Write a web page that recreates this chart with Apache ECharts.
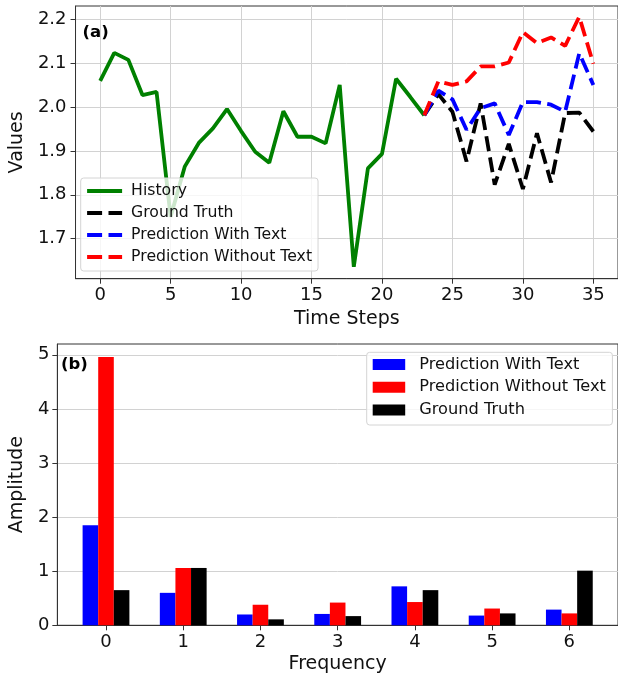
<!DOCTYPE html>
<html>
<head>
<meta charset="utf-8">
<script src="https://cdn.jsdelivr.net/npm/echarts@6/dist/echarts.min.js"></script>
<style>
html,body{margin:0;padding:0;background:#fff;}
#chart{width:618px;height:676px;}
</style>
</head>
<body>
<div id="chart"></div>
<script>
// ---------- Data: panel (a) ----------
const historySteps = [0,1,2,3,4,5,6,7,8,9,10,11,12,13,14,15,16,17,18,19,20,21,22,23];
const historyValues = [2.059,2.123,2.107,2.027,2.034,1.750,1.864,1.918,1.951,1.995,1.945,1.898,1.873,1.990,1.932,1.932,1.917,2.050,1.636,1.860,1.893,2.064,2.023,1.981];
const predSteps = [23,24,25,26,27,28,29,30,31,32,33,34,35];
const groundTruth = [1.981,2.029,1.989,1.876,2.008,1.823,1.916,1.813,1.940,1.828,1.986,1.987,1.944];
const predWithText = [1.981,2.037,2.017,1.948,1.997,2.008,1.936,2.011,2.011,2.005,1.989,2.122,2.050];
const predWithoutText = [1.981,2.058,2.050,2.058,2.092,2.092,2.101,2.170,2.145,2.158,2.139,2.205,2.098];
const xTicksA = [0,5,10,15,20,25,30,35];
const yTicksA = [1.7,1.8,1.9,2.0,2.1,2.2];

// ---------- Data: panel (b) ----------
const frequencies = [0,1,2,3,4,5,6];
const ampWithText = [1.85,0.60,0.20,0.21,0.72,0.18,0.29];
const ampWithoutText = [4.96,1.06,0.38,0.42,0.43,0.31,0.22];
const ampGroundTruth = [0.65,1.06,0.11,0.17,0.65,0.22,1.01];
const yTicksB = [0,1,2,3,4,5];

const FONT = 'DejaVu Sans';
const pair = (xs, ys) => xs.map((x, i) => [x, ys[i]]);

const axisLineStyle = {show: true, onZero: false, lineStyle: {color: '#333', width: 1}};
const gridLine = {show: true, lineStyle: {color: '#d2d2d2', width: 1}};
const tickStyle = (vals) => ({show: true, inside: false, length: 5, lineStyle: {color: '#333'}, customValues: vals});
const labelStyle = (vals, extra) => Object.assign({fontFamily: FONT, fontSize: 18, color: '#111', customValues: vals}, extra || {});
const DASH = [15, 6.4];

const chart = echarts.init(document.getElementById('chart'), null, {renderer: 'canvas'});
const option = {
  animation: false,
  backgroundColor: '#fff',
  grid: [
    {left: 72, top: 6, width: 549, height: 272.7, show: true, borderColor: '#333', borderWidth: 1, backgroundColor: 'transparent', containLabel: false},
    {left: 55.2, top: 344, width: 566, height: 281.3, show: true, borderColor: '#333', borderWidth: 1, backgroundColor: 'transparent', containLabel: false}
  ],
  xAxis: [
    {type: 'value', gridIndex: 0, min: -1.75, max: 36.75,
     axisLine: axisLineStyle, axisTick: tickStyle(xTicksA), splitLine: gridLine,
     axisLabel: labelStyle(xTicksA, {margin: 8}),
     name: 'Time Steps', nameLocation: 'middle', nameGap: 31,
     nameTextStyle: {fontFamily: FONT, fontSize: 19, color: '#111'}},
    {type: 'value', gridIndex: 1, min: -0.63, max: 6.63,
     axisLine: axisLineStyle, axisTick: tickStyle(frequencies), splitLine: {show: false},
     axisLabel: labelStyle(frequencies, {margin: 8}),
     name: 'Frequency', nameLocation: 'middle', nameGap: 29,
     nameTextStyle: {fontFamily: FONT, fontSize: 19, color: '#111'}}
  ],
  yAxis: [
    {type: 'value', gridIndex: 0, min: 1.609, max: 2.2296,
     axisLine: axisLineStyle, axisTick: tickStyle(yTicksA), splitLine: gridLine,
     axisLabel: labelStyle(yTicksA, {margin: 9, formatter: v => Number(v).toFixed(1)}),
     name: 'Values', nameLocation: 'middle', nameGap: 45,
     nameTextStyle: {fontFamily: FONT, fontSize: 19, color: '#111'}},
    {type: 'value', gridIndex: 1, min: 0, max: 5.2,
     axisLine: axisLineStyle, axisTick: tickStyle(yTicksB), splitLine: gridLine,
     axisLabel: labelStyle(yTicksB, {margin: 8}),
     name: 'Amplitude', nameLocation: 'middle', nameGap: 26,
     nameTextStyle: {fontFamily: FONT, fontSize: 19, color: '#111'}}
  ],
  legend: [
    {orient: 'vertical', left: 80.7, top: 178,
     data: ['History', 'Ground Truth', 'Prediction With Text', 'Prediction Without Text'],
     itemWidth: 35, itemHeight: 14, itemGap: 6,
     padding: [5, 6, 6, 4.5],
     backgroundColor: 'rgba(255,255,255,0.8)', borderColor: '#d4d4d4', borderWidth: 1, borderRadius: 3,
     lineStyle: {width: 3.8},
     itemStyle: {opacity: 0},
     textStyle: {fontFamily: FONT, fontSize: 15.7, color: '#111', lineHeight: 16, padding: [0, 0, 0, 4]}},
    {orient: 'vertical', left: 366.7, top: 352.3,
     data: ['bar:Prediction With Text', 'bar:Prediction Without Text', 'bar:Ground Truth'],
     formatter: n => n.replace('bar:', ''),
     icon: 'rect', itemWidth: 32.5, itemHeight: 11, itemGap: 6.75,
     padding: [4.2, 6.5, 7, 6],
     backgroundColor: 'rgba(255,255,255,0.8)', borderColor: '#d4d4d4', borderWidth: 1, borderRadius: 3,
     textStyle: {fontFamily: FONT, fontSize: 16.2, color: '#111', lineHeight: 16, padding: [0, 0, 0, 9]}}
  ],
  graphic: [
    {type: 'text', left: 82.5, top: 24, style: {text: '(a)', fontFamily: FONT, fontWeight: 'bold', fontSize: 16.5, fill: '#000'}},
    {type: 'text', left: 61, top: 356, style: {text: '(b)', fontFamily: FONT, fontWeight: 'bold', fontSize: 16.5, fill: '#000'}}
  ],
  series: [
    {name: 'History', type: 'line', xAxisIndex: 0, yAxisIndex: 0, data: pair(historySteps, historyValues),
     symbol: 'none', color: '#008000', lineStyle: {color: '#008000', width: 3.8}},
    {name: 'Ground Truth', type: 'line', xAxisIndex: 0, yAxisIndex: 0, data: pair(predSteps, groundTruth),
     symbol: 'none', color: '#000000', lineStyle: {color: '#000000', width: 3.8, type: DASH, cap: 'butt'}},
    {name: 'Prediction With Text', type: 'line', xAxisIndex: 0, yAxisIndex: 0, data: pair(predSteps, predWithText),
     symbol: 'none', color: '#0000ff', lineStyle: {color: '#0000ff', width: 3.8, type: DASH, cap: 'butt'}},
    {name: 'Prediction Without Text', type: 'line', xAxisIndex: 0, yAxisIndex: 0, data: pair(predSteps, predWithoutText),
     symbol: 'none', color: '#ff0000', lineStyle: {color: '#ff0000', width: 3.8, type: DASH, cap: 'butt'}},
    {name: 'bar:Prediction With Text', type: 'bar', xAxisIndex: 1, yAxisIndex: 1, data: pair(frequencies, ampWithText),
     barWidth: 15.6, barGap: '0%', color: '#0000ff', itemStyle: {color: '#0000ff'}},
    {name: 'bar:Prediction Without Text', type: 'bar', xAxisIndex: 1, yAxisIndex: 1, data: pair(frequencies, ampWithoutText),
     barWidth: 15.6, barGap: '0%', color: '#ff0000', itemStyle: {color: '#ff0000'}},
    {name: 'bar:Ground Truth', type: 'bar', xAxisIndex: 1, yAxisIndex: 1, data: pair(frequencies, ampGroundTruth),
     barWidth: 15.6, barGap: '0%', color: '#000000', itemStyle: {color: '#000000'}}
  ]
};
chart.setOption(option);
</script>
</body>
</html>
